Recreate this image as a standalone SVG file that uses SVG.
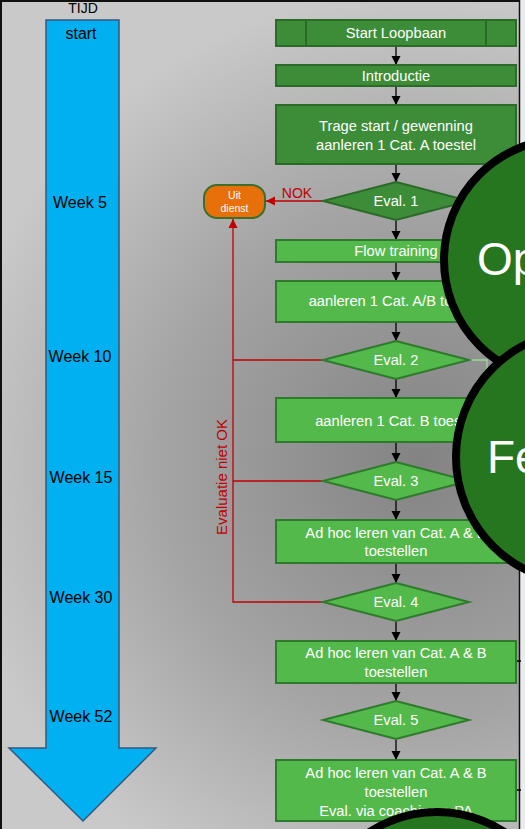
<svg xmlns="http://www.w3.org/2000/svg" width="525" height="829" viewBox="0 0 525 829">
<defs>
<radialGradient id="bg" gradientUnits="userSpaceOnUse" cx="420" cy="460" r="470">
<stop offset="0" stop-color="#838383"/>
<stop offset="0.55" stop-color="#a4a4a4"/>
<stop offset="1" stop-color="#c9c9c9"/>
</radialGradient>
<marker id="ah" markerWidth="10" markerHeight="10" refX="9" refY="5" orient="auto" markerUnits="userSpaceOnUse">
<path d="M0,0.5 L9,5 L0,9.5 Z" fill="#000"/>
</marker>
<marker id="ahr" markerWidth="10" markerHeight="10" refX="9" refY="5" orient="auto" markerUnits="userSpaceOnUse">
<path d="M0,0.5 L9,5 L0,9.5 Z" fill="#c00000"/>
</marker>
<style>
.t{font-family:"Liberation Sans",Arial,sans-serif;}
.w{fill:#fff;font-size:14.7px;text-anchor:middle;}
.wk{fill:#000;font-size:16px;text-anchor:middle;}
.dk{fill:#3d8d38;stroke:#2c6a29;stroke-width:2;}
.lt{fill:#54b94b;stroke:#2f7a2c;stroke-width:2;}
.con{stroke:#000;stroke-width:1.3;fill:none;marker-end:url(#ah);}
.red{stroke:#c00000;stroke-width:1.3;fill:none;}
.big{fill:#26761f;stroke:#000;stroke-width:8;}
.bt{fill:#fff;font-size:46px;}
</style>
</defs>
<rect x="0" y="0" width="525" height="829" fill="url(#bg)"/>
<rect x="520" y="0" width="5" height="829" fill="#ececf0"/>
<line x1="519.5" y1="0" x2="519.5" y2="829" stroke="#111" stroke-width="1.5"/>
<line x1="0" y1="1" x2="520" y2="1" stroke="#111" stroke-width="2"/>
<line x1="1" y1="0" x2="1" y2="829" stroke="#111" stroke-width="2"/>

<g id="timeline">
<path d="M46,20 H119 V748 H156 L83,821 L9,748 H46 Z" fill="#00b0f0" stroke="#35587f" stroke-width="1.5"/>
<text class="t" x="83" y="13" font-size="14" text-anchor="middle" fill="#000">TIJD</text>
<text class="t wk" x="81" y="39">start</text>
<text class="t wk" x="80" y="208">Week 5</text>
<text class="t wk" x="80" y="362">Week 10</text>
<text class="t wk" x="81" y="483">Week 15</text>
<text class="t wk" x="81" y="603">Week 30</text>
<text class="t wk" x="81" y="722">Week 52</text>
</g>

<g id="connectors">
<line class="con" x1="396" y1="46" x2="396" y2="65"/>
<line class="con" x1="396" y1="86" x2="396" y2="105"/>
<line class="con" x1="396" y1="164" x2="396" y2="182"/>
<line class="con" x1="396" y1="221" x2="396" y2="240"/>
<line class="con" x1="396" y1="262" x2="396" y2="281"/>
<line class="con" x1="396" y1="322" x2="396" y2="341"/>
<line class="con" x1="396" y1="379" x2="396" y2="398"/>
<line class="con" x1="396" y1="442" x2="396" y2="462"/>
<line class="con" x1="396" y1="500" x2="396" y2="520"/>
<line class="con" x1="396" y1="563" x2="396" y2="583"/>
<line class="con" x1="396" y1="622" x2="396" y2="641"/>
<line class="con" x1="396" y1="683" x2="396" y2="701"/>
<line class="con" x1="396" y1="740" x2="396" y2="760"/>
<line class="red" x1="322" y1="201" x2="266" y2="201" marker-end="url(#ahr)"/>
<text class="t" x="297" y="198" font-size="14" fill="#c00000" text-anchor="middle">NOK</text>
<polyline class="red" points="322,360 233,360"/>
<polyline class="red" points="322,481 233,481"/>
<polyline class="red" points="322,602 233,602 233,219" marker-end="url(#ahr)"/>
<text class="t" x="0" y="0" font-size="15" fill="#c00000" text-anchor="middle" transform="translate(227,477) rotate(-90)">Evaluatie niet OK</text>
<polyline points="469,360 487,360 487,374" fill="none" stroke="#9fd89a" stroke-width="1.3"/>
<line x1="516" y1="661" x2="521" y2="661" stroke="#000" stroke-width="1.5"/>
<line x1="516" y1="790" x2="521" y2="790" stroke="#000" stroke-width="1.5"/>
</g>

<g id="n-start">
<rect class="dk" x="276" y="20" width="240" height="26"/>
<line x1="306" y1="20" x2="306" y2="46" stroke="#2c6a29" stroke-width="2"/>
<line x1="486" y1="20" x2="486" y2="46" stroke="#2c6a29" stroke-width="2"/>
<text class="t w" x="396" y="38">Start Loopbaan</text>
</g>
<g id="n-intro">
<rect class="dk" x="276" y="65" width="240" height="21"/>
<text class="t w" x="396" y="81">Introductie</text>
</g>
<g id="n-trage">
<rect class="dk" x="276" y="105" width="240" height="59"/>
<text class="t w" x="396" y="131">Trage start / gewenning</text>
<text class="t w" x="396" y="150">aanleren 1 Cat. A toestel</text>
</g>
<g id="n-eval1">
<polygon class="dk" points="396,182 469,201 396,220 323,201"/>
<text class="t w" x="396" y="206">Eval. 1</text>
</g>
<g id="n-uit">
<rect x="204" y="185" width="61" height="33" rx="13" fill="#e8700a" stroke="#3c6e2c" stroke-width="2"/>
<text class="t" x="234.5" y="199" font-size="10.5" fill="#fff" text-anchor="middle">Uit</text>
<text class="t" x="234.5" y="212" font-size="10.5" fill="#fff" text-anchor="middle">dienst</text>
</g>
<g id="n-flow">
<rect class="lt" x="276" y="240" width="240" height="22"/>
<text class="t w" x="396" y="256">Flow training</text>
</g>
<g id="n-ab">
<rect class="lt" x="276" y="281" width="240" height="41"/>
<text class="t w" x="396" y="306">aanleren 1 Cat. A/B toestel</text>
</g>
<g id="n-eval2">
<polygon class="lt" points="396,341 469,360 396,379 323,360"/>
<text class="t w" x="396" y="365">Eval. 2</text>
</g>
<g id="n-b">
<rect class="lt" x="276" y="398" width="240" height="44"/>
<text class="t w" x="396" y="426">aanleren 1 Cat. B toestel</text>
</g>
<g id="n-eval3">
<polygon class="lt" points="396,462 469,481 396,500 323,481"/>
<text class="t w" x="396" y="486">Eval. 3</text>
</g>
<g id="n-adhoc1">
<rect class="lt" x="276" y="520" width="240" height="43"/>
<text class="t w" x="396" y="538">Ad hoc leren van Cat. A &amp; B</text>
<text class="t w" x="396" y="556">toestellen</text>
</g>
<g id="n-eval4">
<polygon class="lt" points="396,583 469,602 396,621 323,602"/>
<text class="t w" x="396" y="607">Eval. 4</text>
</g>
<g id="n-adhoc2">
<rect class="lt" x="276" y="641" width="240" height="42"/>
<text class="t w" x="396" y="658">Ad hoc leren van Cat. A &amp; B</text>
<text class="t w" x="396" y="677">toestellen</text>
</g>
<g id="n-eval5">
<polygon class="lt" points="396,701 469,720 396,739 323,720"/>
<text class="t w" x="396" y="725">Eval. 5</text>
</g>
<g id="n-adhoc3">
<rect class="lt" x="276" y="760" width="240" height="61"/>
<text class="t w" x="396" y="778">Ad hoc leren van Cat. A &amp; B</text>
<text class="t w" x="396" y="797">toestellen</text>
<text class="t w" x="396" y="816">Eval. via coaching + PA</text>
</g>

<g id="c-op">
<circle class="big" cx="565" cy="260" r="121"/>
<text class="t bt" x="477" y="275">Op</text>
</g>
<g id="c-fe">
<circle class="big" cx="582" cy="457" r="126"/>
<text class="t bt" x="487" y="473">Fe</text>
</g>
<g id="c-bottom">
<circle class="big" cx="437" cy="936" r="124"/>
</g>
</svg>
